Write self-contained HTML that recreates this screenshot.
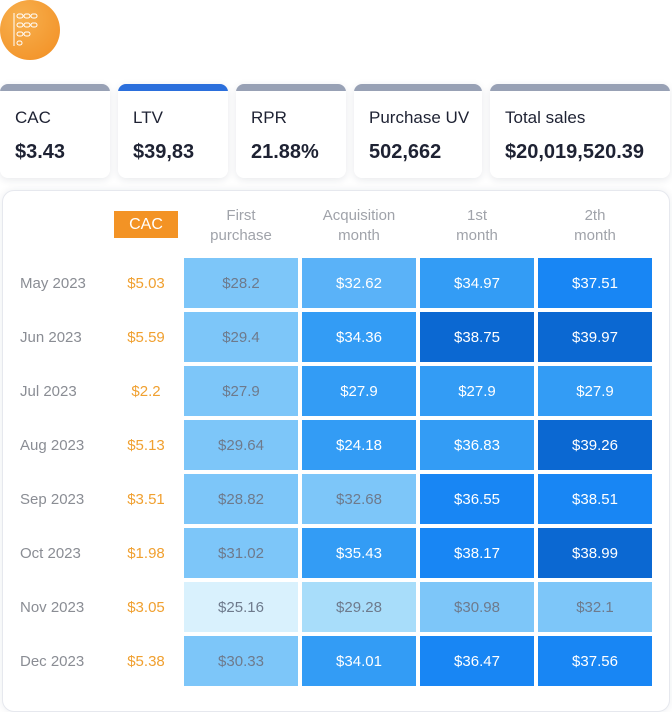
<!DOCTYPE html>
<html><head><meta charset="utf-8"><style>
body{margin:0;width:672px;height:690px;background:#fff;font-family:"Liberation Sans",sans-serif;position:relative;overflow:hidden}
.abs{position:absolute}
.card{position:absolute;top:84px;height:94px;background:#fff;border-radius:8px;box-shadow:0 2px 8px rgba(30,40,70,.10);overflow:hidden}
.card .bar{height:7px;background:#98a1b5}
.card .lbl{position:absolute;left:15px;top:24px;font-size:17px;color:#1e2233}
.card .val{position:absolute;left:15px;top:57px;font-size:20px;font-weight:bold;color:#1e2233}
.hdr{position:absolute;top:206px;width:114px;text-align:center;color:#a0a3aa;font-size:15px;line-height:20px}
.rl{position:absolute;left:20px;font-size:15px;color:#8a8d94;line-height:52px}
.rc{position:absolute;left:114px;width:64px;text-align:center;font-size:15px;color:#f0a030;line-height:52px}
.cell{position:absolute;width:114px;height:50px;line-height:52px;text-align:center;font-size:15px}
</style></head><body>
<div class="abs" style="left:0;top:0;width:60px;height:60px;border-radius:50%;background:radial-gradient(circle at 35% 30%,#f7b04e,#f28e22)">
<svg width="60" height="60" style="position:absolute;left:0;top:0"><g stroke="#fff" fill="none" stroke-width="1"><line x1="14" y1="13" x2="14" y2="46"/><rect x="17" y="14" width="6" height="4" rx="2"/><rect x="24" y="14" width="6" height="4" rx="2"/><rect x="31" y="14" width="6" height="4" rx="2"/><rect x="17" y="23" width="6" height="4" rx="2"/><rect x="24" y="23" width="6" height="4" rx="2"/><rect x="31" y="23" width="6" height="4" rx="2"/><rect x="17" y="32" width="6" height="4" rx="2"/><rect x="24" y="32" width="6" height="4" rx="2"/><rect x="17" y="41" width="5" height="4" rx="2"/></g></svg></div>

<div class="card" style="left:0;width:110px"><div class="bar"></div><div class="lbl">CAC</div><div class="val">$3.43</div></div>
<div class="card" style="left:118px;width:110px"><div class="bar" style="background:#2b6fdc"></div><div class="lbl">LTV</div><div class="val">$39,83</div></div>
<div class="card" style="left:236px;width:110px"><div class="bar"></div><div class="lbl">RPR</div><div class="val">21.88%</div></div>
<div class="card" style="left:354px;width:128px"><div class="bar"></div><div class="lbl">Purchase UV</div><div class="val">502,662</div></div>
<div class="card" style="left:490px;width:180px"><div class="bar"></div><div class="lbl">Total sales</div><div class="val">$20,019,520.39</div></div>

<div class="abs" style="left:2px;top:190px;width:666px;height:520px;border:1px solid #e6e8ee;border-radius:12px;box-shadow:0 0 8px rgba(30,40,70,.08);background:#fff"></div>
<div class="abs" style="left:114px;top:211px;width:64px;height:27px;background:#f39325;color:#fff;font-size:16px;line-height:28px;text-align:center">CAC</div>
<div id="grid"></div>
<script>
const months=["May 2023","Jun 2023","Jul 2023","Aug 2023","Sep 2023","Oct 2023","Nov 2023","Dec 2023"];
const cacValues=["$5.03","$5.59","$2.2","$5.13","$3.51","$1.98","$3.05","$5.38"];
const columnHeaders=["First<br>purchase","Acquisition<br>month","1st<br>month","2th<br>month"];
const firstPurchase=[28.2,29.4,27.9,29.64,28.82,31.02,25.16,30.33];
const acquisitionMonth=[32.62,34.36,27.9,24.18,32.68,35.43,29.28,34.01];
const month1=[34.97,38.75,27.9,36.83,36.55,38.17,30.98,36.47];
const month2=[37.51,39.97,27.9,39.26,38.51,38.99,32.1,37.56];
const shadeLevels=[[2,3,4,5],[2,4,6,6],[2,4,4,4],[2,4,4,6],[2,2,5,5],[2,4,5,6],[0,1,2,2],[2,4,5,5]];
const palette=["#d9f1fd","#a8ddfa","#7dc6f9","#5ab2f8","#339cf5","#1886f4","#0b68d2"];
const series=[firstPurchase,acquisitionMonth,month1,month2];
const g=document.getElementById('grid');
const colX=i=>184+i*118, rowY=j=>258+j*54;
columnHeaders.forEach((h,i)=>{const d=document.createElement('div');d.className='hdr';d.style.left=colX(i)+'px';d.innerHTML=h;


g.appendChild(d);});
months.forEach((m,j)=>{
 const l=document.createElement('div');l.className='rl';l.style.top=rowY(j)+'px';l.textContent=m;
 
 
 g.appendChild(l);
 const c=document.createElement('div');c.className='rc';c.style.top=rowY(j)+'px';c.textContent=cacValues[j];
 
 
 g.appendChild(c);
 series.forEach((s,i)=>{const lv=shadeLevels[j][i];const d=document.createElement('div');d.className='cell';
  d.style.left=colX(i)+'px';d.style.top=rowY(j)+'px';d.style.background=palette[lv];
  d.style.color=(i===0||lv<=2)?'#6e7a8c':'#fff';
  d.textContent='$'+s[j];
  
  
  g.appendChild(d);});
});
</script>
</body></html>
